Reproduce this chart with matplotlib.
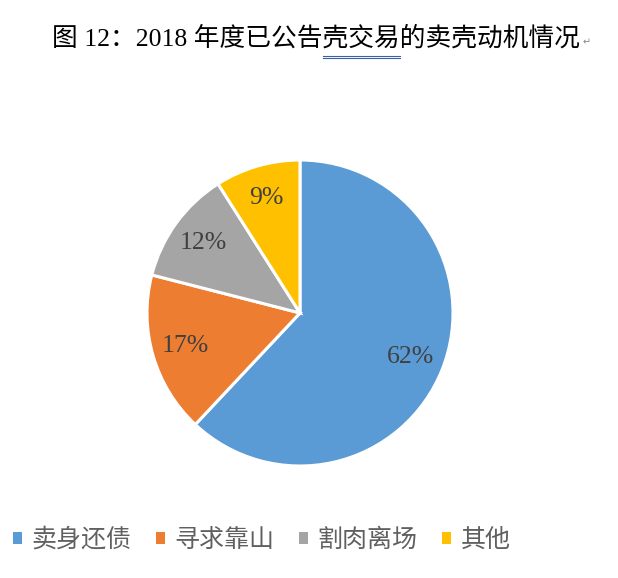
import matplotlib
matplotlib.use("Agg")
import matplotlib.pyplot as plt
from matplotlib.patches import Patch
from matplotlib.lines import Line2D

categories = ["卖身还债", "寻求靠山", "割肉离场", "其他"]
values = [62, 17, 12, 9]
colors = ["#5B9BD5", "#ED7D31", "#A5A5A5", "#FFC000"]
title_pre = "图 12：2018 年度已公告"
title_mid = "壳交易"
title_post = "的卖壳动机情况"

plt.rcParams['font.family'] = ['Liberation Serif', 'Noto Sans CJK SC', 'DejaVu Sans']

W, H = 618, 578
fig = plt.figure(figsize=(W/100, H/100), dpi=100)

cx, cy, r = 300, 313, 153
ax = fig.add_axes([(cx-r)/W, (H-cy-r)/H, 2*r/W, 2*r/H])
wedges, texts, autotexts = ax.pie(values, colors=colors, startangle=90, counterclock=False,
                                  autopct='%d%%', pctdistance=0.78,
                                  wedgeprops=dict(edgecolor='white', linewidth=2.2),
                                  textprops=dict(fontsize=18.5, color='#404040',
                                                 family=['Liberation Serif']))
ax.set_aspect('equal')
ax.set_xlim(-1.0, 1.0)
ax.set_ylim(-1.0, 1.0)

# title
tfs = 18.5
tfam = ['Liberation Serif', 'Noto Sans CJK SC']
x0 = 52
renderer = fig.canvas.get_renderer()
tmp = fig.text(0, 0, title_pre, fontsize=tfs, family=tfam)
w_pre = tmp.get_window_extent(renderer).width
tmp.set_text(title_mid)
w_mid = tmp.get_window_extent(renderer).width
tmp.remove()
fig.text(x0/W, 1-38/H, title_pre + title_mid + title_post, fontsize=tfs, ha='left', va='center',
         color='black', family=tfam)
full = fig.texts[-1].get_window_extent(renderer)
fig.text((full.x1 + 3)/W, 1-42/H, "↵", fontsize=7, color='#888888', ha='left', va='center',
         family=['DejaVu Sans'])
# double underline under 壳交易 (as in the source document)
for yy in (55.5, 57.5):
    fig.add_artist(Line2D([(x0 + w_pre)/W, (x0 + w_pre + w_mid)/W], [1-yy/H, 1-yy/H],
                          color='#3B5FA8', lw=0.8))

handles = [Patch(facecolor=c, edgecolor='none') for c in colors]
leg = fig.legend(handles, categories, loc='center left', bbox_to_anchor=(13/W, 1-540/H),
                 ncol=4, frameon=False, handlelength=0.35, handleheight=0.35,
                 handletextpad=0.4, columnspacing=0.97, borderpad=0, borderaxespad=0,
                 prop=dict(family=['Noto Sans CJK SC'], size=18))
for txt in leg.get_texts():
    txt.set_color('#606060')

fig.savefig("out.png", dpi=100)
